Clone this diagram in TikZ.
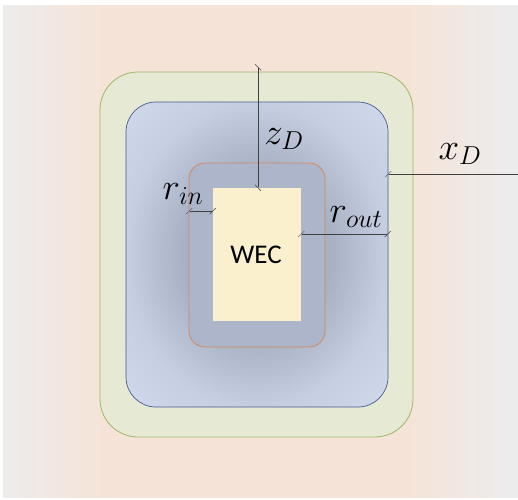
\RequirePackage{fix-cm}
\documentclass[tikz,border=0pt]{standalone}
\usepackage{fontspec}
\newfontfamily\wecfont{Carlito}
\usetikzlibrary{arrows.meta}
\definecolor{bggray}{HTML}{EDECEC}
\definecolor{bgpeach}{HTML}{F5E3D7}
\definecolor{greenfill}{HTML}{E6E9D4}
\definecolor{greenline}{HTML}{9DB86A}
\definecolor{blueline}{HTML}{4A5A92}
\definecolor{bdark}{HTML}{A8B0C4}
\definecolor{bmid}{HTML}{C6CEE2}
\definecolor{blight}{HTML}{D1D9ED}
\definecolor{orangeline}{HTML}{D68A5C}
\definecolor{orangefill}{HTML}{ACB5C9}
\definecolor{wecfill}{HTML}{FAF0CD}
\definecolor{dimline}{HTML}{404040}
\pgfdeclarehorizontalshading{bgshade}{100bp}{color(0bp)=(bggray); color(25bp)=(bggray); color(35bp)=(bgpeach); color(64bp)=(bgpeach); color(74bp)=(bggray); color(100bp)=(bggray)}
\pgfdeclareradialshading{blueglow}{\pgfpoint{0bp}{0bp}}{color(0bp)=(bdark); color(14bp)=(bdark); color(25bp)=(bmid); color(36bp)=(blight); color(50bp)=(blight)}
\tikzset{
  box/.style={rectangle, inner sep=0pt, outer sep=0pt},
  dimarrow/.style={draw=dimline, line width=0.7pt, {Bar[width=6pt,slant=1]}-{Bar[width=6pt,slant=1]}},
  dimhalf/.style={draw=dimline, line width=0.7pt, {Bar[width=6pt,slant=1]}-},
  lbl/.style={inner sep=0pt, font=\fontsize{37}{44}\selectfont},
}
\begin{document}
\begin{tikzpicture}[x=1pt,y=-1pt]
  \useasboundingbox (0,0) rectangle (518,499);
  \fill[white] (0,0) rectangle (518,499);
  \shade[shading=bgshade] (3,5) rectangle (518,497);
  \node[box, draw=greenline, line width=0.8pt, fill=greenfill, rounded corners=38pt,
        minimum width=313pt, minimum height=365pt] (green) at (256.5,254.5) {};
  \node[box, draw=blueline, line width=0.7pt, shading=blueglow, rounded corners=30pt,
        minimum width=262pt, minimum height=305pt] (blue) at (257,254.5) {};
  \node[box, draw=orangeline, line width=0.8pt, fill=orangefill, rounded corners=16pt,
        minimum width=136pt, minimum height=184pt] (orange) at (257,255) {};
  \node[box, fill=wecfill, minimum width=88pt, minimum height=133pt] (wec) at (257,254.5) {};
  \node[font=\wecfont\fontsize{27}{32}\selectfont, text=black] (weclabel) at (256,255) {WEC};

  \coordinate (zt) at (258,67);
  \draw[dimarrow] (zt) -- (zt |- wec.north);
  \coordinate (xr) at (518,174);
  \draw[dimhalf] (xr -| blue.east) -- (xr);
  \coordinate (ry) at (0,211);
  \draw[dimarrow] (ry -| orange.west) -- (ry -| wec.west);
  \coordinate (ro) at (0,234);
  \draw[dimarrow] (ro -| wec.east) -- (ro -| blue.east);

  \node[lbl] (zlabel) at (284,139) {$z_D$};
  \node[lbl] (xlabel) at (460,154) {$x_D$};
  \node[lbl] (rinlabel) at (183,194) {$r_{in}$};
  \node[lbl] (routlabel) at (356,217) {$r_{out}$};
\end{tikzpicture}
\end{document}
